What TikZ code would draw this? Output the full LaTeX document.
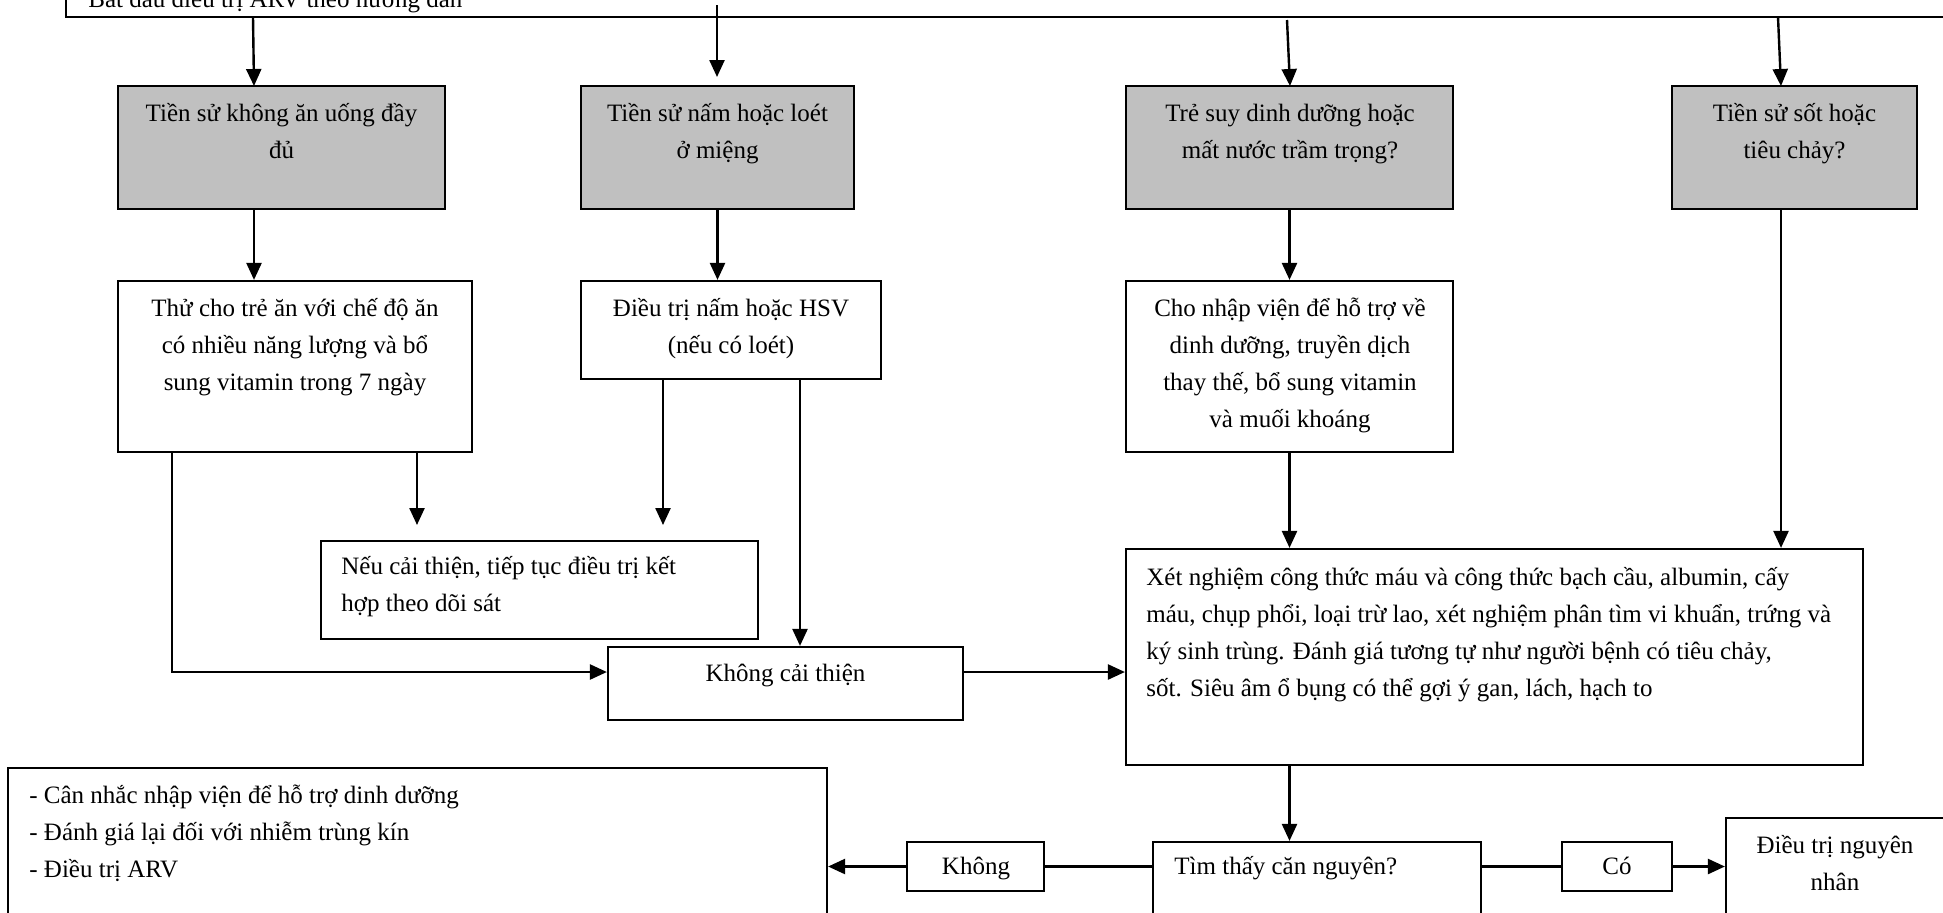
\documentclass[tikz,border=0pt]{standalone}
\usepackage{fontspec}
\setmainfont{Liberation Serif}
\usetikzlibrary{fit,arrows.meta}
\definecolor{boxgray}{RGB}{192,192,192}
\tikzset{
  box/.style={draw, line width=1.1pt, inner sep=0pt},
  gbox/.style={box, fill=boxgray},
  txt/.style={inner sep=0pt, font=\fontsize{12.5}{18.5}\selectfont, align=center},
  ltxt/.style={inner sep=0pt, font=\fontsize{12.5}{18.5}\selectfont, align=left},
  arr/.style={line width=1.2pt, -{Triangle[length=8.5pt,width=7.5pt]}},
  conn/.style={line width=1.2pt}
}
\begin{document}
\begin{tikzpicture}[x=0.5pt,y=-0.5pt]
\useasboundingbox (0,0) rectangle (1943,912);
\fill[white] (0,0) rectangle (1943,912);
\clip (0,0) rectangle (1943,912);
% boxes
\node[box, fit={(66,-60) (2000,17)}] (top) {};
\node[gbox, fit={(118,86) (445,209)}] (g1) {};
\node[gbox, fit={(581,86) (854,209)}] (g2) {};
\node[gbox, fit={(1126,86) (1453,209)}] (g3) {};
\node[gbox, fit={(1672,86) (1917,209)}] (g4) {};
\node[box, fit={(118,281) (472,452)}] (thu) {};
\node[box, fit={(581,281) (881,379)}] (hsv) {};
\node[box, fit={(1126,281) (1453,452)}] (cho) {};
\node[box, fit={(321,541) (758,639)}] (neu) {};
\node[box, fit={(608,647) (963,720)}] (khong) {};
\node[box, fit={(1126,549) (1863,765)}] (big) {};
\node[box, fit={(8,768) (827,1000)}] (left) {};
\node[box, fit={(907,842) (1044,891)}] (kh2) {};
\node[box, fit={(1153,842) (1481,1000)}] (tim) {};
\node[box, fit={(1562,842) (1672,891)}] (co) {};
\node[box, fit={(1726,818) (2000,1000)}] (dieu) {};
% texts (base anchor = baseline of last line)
\node[ltxt, anchor=base west] (topt) at (88,7) {Bắt đầu điều trị ARV theo hướng dẫn};
\node[txt, anchor=base] (g1t) at (281.5,158) {Tiền sử không ăn uống đầy\\đủ};
\node[txt, anchor=base] (g2t) at (717.5,158) {Tiền sử nấm hoặc loét\\ở miệng};
\node[txt, anchor=base] (g3t) at (1290,158) {Trẻ suy dinh dưỡng hoặc\\mất nước trầm trọng?};
\node[txt, anchor=base] (g4t) at (1794.5,158) {Tiền sử sốt hoặc\\tiêu chảy?};
\node[txt, anchor=base] (thut) at (295,390) {Thử cho trẻ ăn với chế độ ăn\\có nhiều năng lượng và bổ\\sung vitamin trong 7 ngày};
\node[txt, anchor=base] (hsvt) at (731,353) {Điều trị nấm hoặc HSV\\(nếu có loét)};
\node[txt, anchor=base] (chot) at (1290,427) {Cho nhập viện để hỗ trợ về\\dinh dưỡng, truyền dịch\\thay thế, bổ sung vitamin\\và muối khoáng};
\node[ltxt, anchor=base west] (neut) at (341,611) {Nếu cải thiện, tiếp tục điều trị kết\\hợp theo dõi sát};
\node[txt, anchor=base] (khongt) at (785.5,681) {Không cải thiện};
\node[ltxt, anchor=base west] (bigt) at (1146,696) {Xét nghiệm công thức máu và công thức bạch cầu, albumin, cấy\\máu, chụp phổi, loại trừ lao, xét nghiệm phân tìm vi khuẩn, trứng và\\ký sinh trùng. Đánh giá tương tự như người bệnh có tiêu chảy,\\sốt. Siêu âm ổ bụng có thể gợi ý gan, lách, hạch to};
\node[ltxt, anchor=base west] (leftt) at (29,877) {- Cân nhắc nhập viện để hỗ trợ dinh dưỡng\\- Đánh giá lại đối với nhiễm trùng kín\\- Điều trị ARV};
\node[txt, anchor=base] (kh2t) at (976,874) {Không};
\node[ltxt, anchor=base west] (timt) at (1174,874) {Tìm thấy căn nguyên?};
\node[txt, anchor=base] (cot) at (1617,874) {Có};
\node[txt, anchor=base] (dieut) at (1835,890) {Điều trị nguyên\\nhân};
% helper coordinates
\coordinate (t1) at (253,17);
\coordinate (t1e) at (254,86);
\coordinate (t2) at (717,5);
\coordinate (t2e) at (717,77);
\coordinate (t3) at (1287,20);
\coordinate (t3e) at (1290,86);
\coordinate (t4) at (1778,17);
\coordinate (t4e) at (1781,86);
\coordinate (c417) at (417,525);
\coordinate (c663) at (663,525);
\coordinate (c800) at (800,0);
\coordinate (c172) at (172,0);
\coordinate (r672) at (0,672);
% connectors
\draw[arr] (t1) -- (t1e);
\draw[arr] (t2) -- (t2e);
\draw[arr] (t3) -- (t3e);
\draw[arr] (t4) -- (t4e);
\draw[arr] (g1.south -| t1e) -- (thu.north -| t1e);
\draw[arr] (g2.south) -- (g2.south |- hsv.north);
\draw[arr] (g3.south) -- (cho.north);
\draw[arr] (g4.south -| t4e) -- (big.north -| t4e);
\draw[arr] (thu.south -| c417) -- (c417);
\draw[arr] (hsv.south -| c663) -- (c663);
\draw[arr] (hsv.south -| c800) -- (khong.north -| c800);
\draw[arr] (thu.south -| c172) |- (khong.west |- r672);
\draw[arr] (khong.east |- r672) -- (big.west |- r672);
\draw[arr] (cho.south) -- (big.north -| cho.south);
\draw[arr] (big.south -| cho.south) -- (tim.north -| cho.south);
\draw[conn] (tim.west |- kh2.east) -- (kh2.east);
\draw[arr] (kh2.west) -- (left.east |- kh2.west);
\draw[conn] (tim.east |- co.west) -- (co.west);
\draw[arr] (co.east) -- (dieu.west |- co.east);
\end{tikzpicture}
\end{document}
